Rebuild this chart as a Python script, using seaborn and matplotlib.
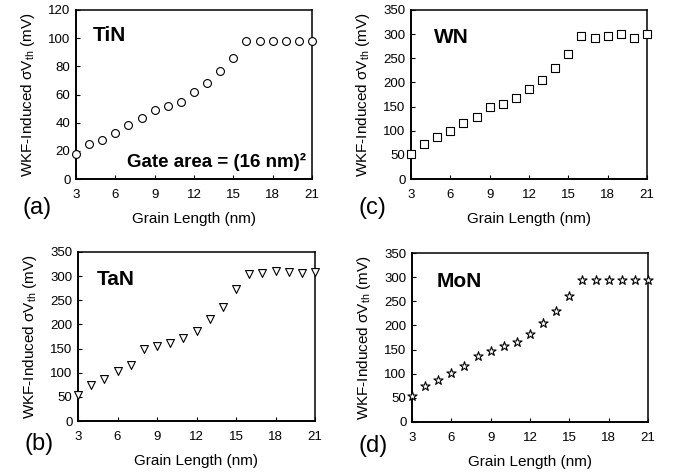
import matplotlib
matplotlib.use("Agg")
import matplotlib.pyplot as plt
import seaborn as sns
import pandas as pd

grain_length = [3, 4, 5, 6, 7, 8, 9, 10, 11, 12, 13, 14, 15, 16, 17, 18, 19, 20, 21]
tin = [18, 25, 28, 33, 38, 43, 49, 52, 55, 62, 68, 77, 86, 98, 98, 98, 98, 98, 98]
wn = [52, 72, 87, 100, 117, 129, 150, 155, 167, 186, 206, 230, 259, 296, 291, 296, 301, 293, 300]
tan = [53, 75, 88, 104, 117, 150, 155, 161, 172, 186, 212, 237, 274, 304, 306, 310, 308, 306, 308]
mon = [53, 74, 86, 101, 117, 137, 148, 157, 166, 183, 205, 230, 260, 294, 294, 294, 294, 294, 294]
materials = ["TiN", "WN", "TaN", "MoN"]
panel_tags = ["(a)", "(c)", "(b)", "(d)"]
x_ticks = [3, 6, 9, 12, 15, 18, 21]
y_ticks_tin = [0, 20, 40, 60, 80, 100, 120]
y_ticks_other = [0, 50, 100, 150, 200, 250, 300, 350]

sns.set_theme(style="ticks")
plt.rcParams["font.family"] = ["Liberation Sans", "DejaVu Sans"]
plt.rcParams["mathtext.fontset"] = "custom"
plt.rcParams["mathtext.rm"] = "Liberation Sans"
plt.rcParams["mathtext.it"] = "Liberation Sans:italic"
plt.rcParams["text.color"] = "black"
plt.rcParams["axes.labelcolor"] = "black"
plt.rcParams["xtick.color"] = "black"
plt.rcParams["ytick.color"] = "black"

W, H = 675, 472
fig = plt.figure(figsize=(W / 100, H / 100), dpi=100)

def rect(left, top, right, bottom):
    return [left / W, 1 - bottom / H, (right - left) / W, (bottom - top) / H]

layout = [
    dict(mat="TiN", vals=tin, marker="o", s=32, rect=rect(76, 10, 312, 179), yticks=y_ticks_tin,
         name_pos=(0.072, 0.852), tag_pos=(23, 208)),
    dict(mat="WN", vals=wn, marker="s", s=26, rect=rect(411, 10, 647, 179), yticks=y_ticks_other,
         name_pos=(0.097, 0.84), tag_pos=(358, 208)),
    dict(mat="TaN", vals=tan, marker="v", s=32, rect=rect(78, 252, 315, 421), yticks=y_ticks_other,
         name_pos=(0.08, 0.84), tag_pos=(24, 444)),
    dict(mat="MoN", vals=mon, marker="*", s=48, rect=rect(412, 253, 648, 422), yticks=y_ticks_other,
         name_pos=(0.106, 0.834), tag_pos=(359, 446)),
]

for i, cfg in enumerate(layout):
    ax = fig.add_axes(cfg["rect"])
    df = pd.DataFrame({"Grain Length (nm)": grain_length, "val": cfg["vals"]})
    sns.scatterplot(data=df, x="Grain Length (nm)", y="val", ax=ax, marker=cfg["marker"],
                    s=cfg["s"], facecolor="white", edgecolor="black", linewidth=0.8,
                    clip_on=False, zorder=5)
    ax.set_xlim(3, 21)
    ax.set_ylim(cfg["yticks"][0], cfg["yticks"][-1])
    ax.set_xticks(x_ticks)
    ax.set_yticks(cfg["yticks"])
    ax.tick_params(direction="in", length=3, width=0.8, labelsize=9.5, colors="black")
    ax.tick_params(axis="x", pad=7)
    ax.tick_params(axis="y", pad=4)
    for side in ["left", "bottom"]:
        ax.spines[side].set_linewidth(1.4)
    for side in ["top", "right"]:
        ax.spines[side].set_linewidth(1.1)
    for sp in ax.spines.values():
        sp.set_color("black")
        sp.set_visible(True)
    ax.set_xlabel("Grain Length (nm)", fontsize=11, labelpad=8)
    ax.set_ylabel("WKF-Induced σV$_{\\mathrm{th}}$ (mV)", fontsize=11, labelpad=8)
    ax.text(cfg["name_pos"][0], cfg["name_pos"][1], cfg["mat"], transform=ax.transAxes,
            fontsize=15, fontweight="bold", ha="left", va="center")
    fig.text(cfg["tag_pos"][0] / W, 1 - cfg["tag_pos"][1] / H, panel_tags[i], fontsize=17,
             ha="left", va="center")
    if cfg["mat"] == "TiN":
        ax.text(0.975, 0.10, "Gate area = (16 nm)²", transform=ax.transAxes,
                fontsize=13.5, fontweight="bold", ha="right", va="center")

fig.savefig("out.png", dpi=100)
